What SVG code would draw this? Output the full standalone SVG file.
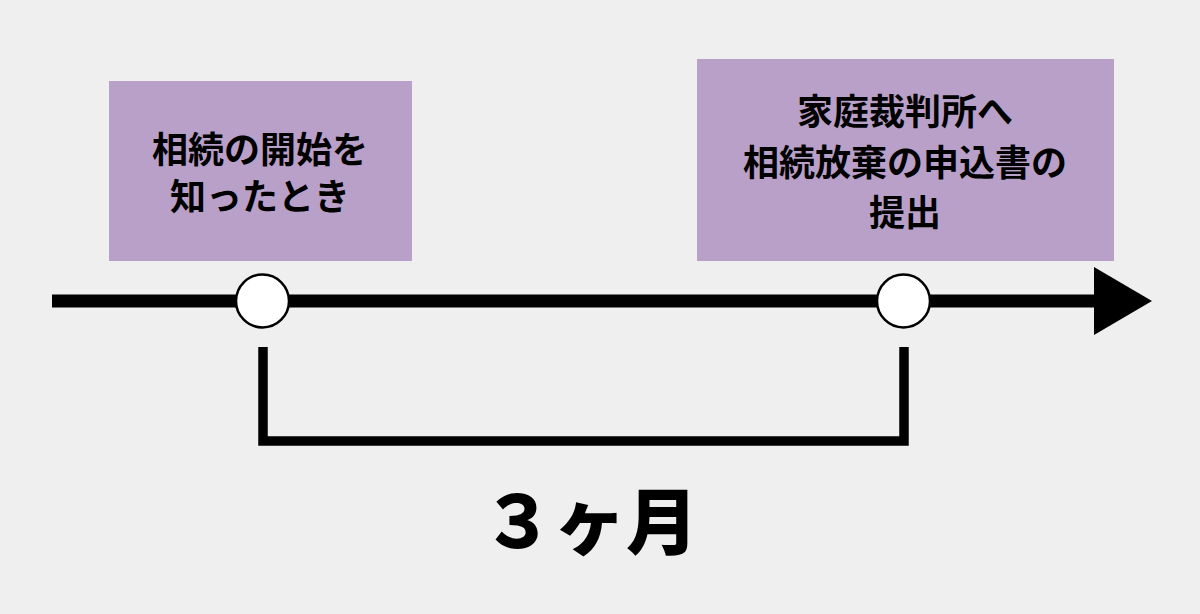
<svg xmlns="http://www.w3.org/2000/svg" width="1200" height="614" viewBox="0 0 1200 614">
<style>
.box{fill:#b9a0c9;}
.t{font-family:"Noto Sans CJK JP","Noto Sans CJK SC",sans-serif;font-weight:bold;font-size:36px;fill:#000;text-anchor:middle;}
.big{font-family:"Noto Sans CJK JP","Noto Sans CJK SC",sans-serif;font-weight:900;font-size:72px;fill:#000;text-anchor:middle;}
.pt{fill:#fff;stroke:#000;stroke-width:2.5;}
</style>
<rect width="1200" height="614" fill="#efefef"/>
<g id="connectors">
<line x1="52" y1="301" x2="1100" y2="301" stroke="#000" stroke-width="13"/>
<polygon points="1094,267 1152,301 1094,335" fill="#000"/>
<polyline points="263,347 263,441 904,441 904,347" fill="none" stroke="#000" stroke-width="9.5"/>
</g>
<g id="start">
<rect class="box" x="109" y="81" width="303" height="180"/>
<text class="t" x="260" y="163">相続の開始を</text>
<text class="t" x="260" y="210">知ったとき</text>
</g>
<g id="end">
<rect class="box" x="697" y="59" width="417" height="202"/>
<text class="t" x="905" y="125">家庭裁判所へ</text>
<text class="t" x="905" y="176">相続放棄の申込書の</text>
<text class="t" x="905" y="226">提出</text>
</g>
<g id="point-start"><circle class="pt" cx="262.5" cy="301" r="26.5"/></g>
<g id="point-end"><circle class="pt" cx="903.5" cy="301" r="26.5"/></g>
<g id="period"><text class="big" x="590" y="548">３ヶ月</text></g>
</svg>
